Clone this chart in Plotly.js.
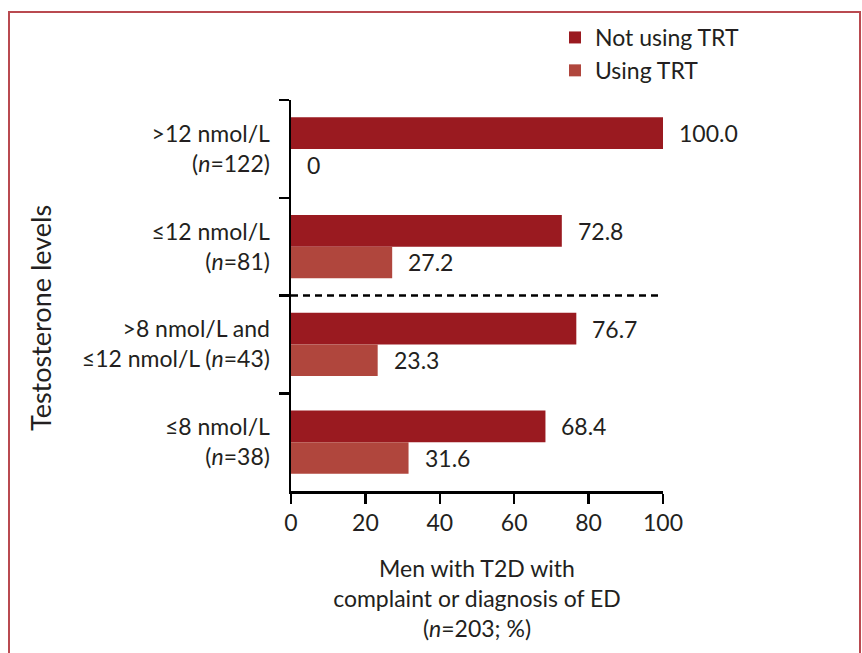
<!DOCTYPE html>
<html>
<head>
<meta charset="utf-8">
<script src="https://cdn.plot.ly/plotly-3.0.1.min.js"></script>
<style>html,body{margin:0;padding:0;background:#fff;}#chart{width:862px;height:653px;}</style>
</head>
<body>
<div id="chart"></div>
<script>
const categories = ['&gt;12 nmol/L<br>(<i>n</i>=122)', '≤12 nmol/L<br>(<i>n</i>=81)', '&gt;8 nmol/L and<br>≤12 nmol/L (<i>n</i>=43)', '≤8 nmol/L<br>(<i>n</i>=38)'];
const notUsingTRT = [100.0, 72.8, 76.7, 68.4];
const usingTRT = [0, 27.2, 23.3, 31.6];
const seriesNames = ['Not using TRT', 'Using TRT'];
const xTicks = [0, 20, 40, 60, 80, 100];

const FONT = 'Lato, "Open Sans", sans-serif';
const TXT = '#231f20';
const colors = ['#9a1a20', '#b0463d'];
const FS = 23;

const traces = [
  {type:'bar', orientation:'h', name:seriesNames[0], y:categories, x:notUsingTRT, marker:{color:colors[0]}, hoverinfo:'x'},
  {type:'bar', orientation:'h', name:seriesNames[1], y:categories, x:usingTRT, marker:{color:colors[1]}, hoverinfo:'x'}
];

const annotations = [];
[notUsingTRT, usingTRT].forEach((arr, si) => {
  arr.forEach((v, i) => {
    annotations.push({
      x: v, y: categories[i], xref:'x', yref:'y',
      text: (si === 1 && v === 0) ? '0' : v.toFixed(1),
      showarrow:false, xanchor:'left', xshift: 14,
      yshift: si === 0 ? 15.8 : -15.8,
      font:{family:FONT, size:FS, color:TXT}
    });
  });
});
annotations.push({
  text:'Testosterone levels', textangle:-90, xref:'paper', yref:'paper',
  x:(40-291)/372, y:1-(318-100)/391, showarrow:false, xanchor:'center', yanchor:'middle',
  font:{family:FONT, size:27, color:TXT}
});

const layout = {
  width:862, height:653,
  margin:{l:291, r:199, t:100, b:162},
  paper_bgcolor:'#fff', plot_bgcolor:'#fff',
  barmode:'group', bargap:0.355, bargroupgap:0,
  font:{family:FONT, size:FS, color:TXT},
  xaxis:{
    range:[0,100], tickvals:xTicks, ticks:'outside', ticklen:10, tickwidth:2.5, tickcolor:'#000',
    showline:true, linewidth:2.5, linecolor:'#000', showgrid:false, zeroline:false,
    tickfont:{family:FONT, size:FS, color:TXT},
    title:{text:'Men with T2D with<br>complaint or diagnosis of ED<br>(<i>n</i>=203; %)', font:{family:FONT, size:FS, color:TXT}, standoff:26}
  },
  yaxis:{
    type:'category', autorange:'reversed', tickson:'boundaries', ticks:'outside', ticklen:10, tickwidth:2.5, tickcolor:'#000',
    showline:true, linewidth:2.5, linecolor:'#000', showgrid:false, zeroline:false, ticklabelstandoff:14,
    tickfont:{family:FONT, size:FS, color:TXT}
  },
  showlegend:true,
  legend:{x:(555-291)/372, y:1+(100-16)/391, xanchor:'left', yanchor:'top', traceorder:'normal',
    font:{family:FONT, size:FS, color:TXT}, bgcolor:'rgba(0,0,0,0)', itemwidth:30, tracegroupgap:8},
  annotations:annotations,
  shapes:[
    {type:'line', xref:'x', yref:'y', x0:0, x1:100, y0:1.5, y1:1.5, line:{color:'#000', width:2.5, dash:'7px,5px'}},
    {type:'rect', xref:'paper', yref:'paper', x0:(9-291)/372, x1:(860-291)/372, y0:1-(680-100)/391, y1:1+(100-12)/391, line:{color:'#b94a50', width:2}}
  ]
};

Plotly.newPlot('chart', traces, layout, {displayModeBar:false, staticPlot:true});
</script>
</body>
</html>
